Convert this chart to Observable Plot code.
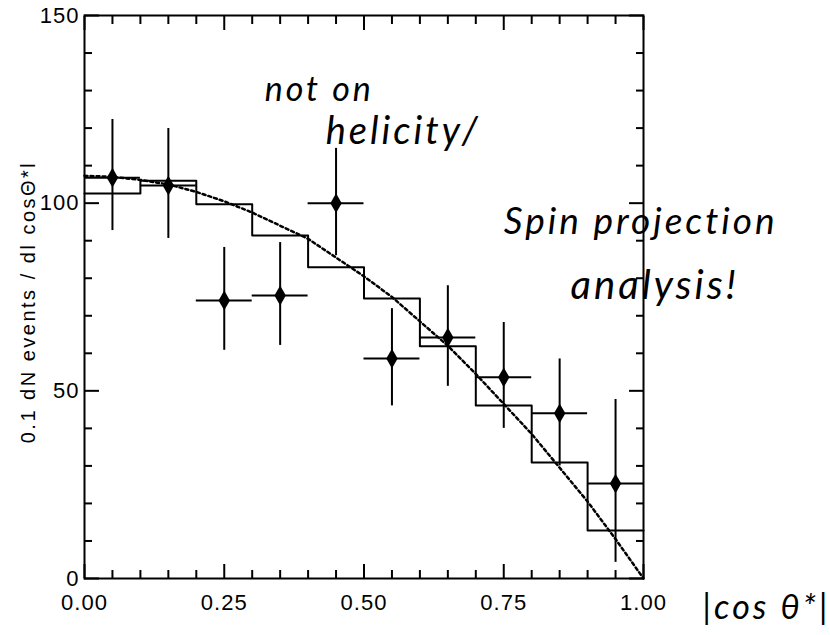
<!DOCTYPE html>
<html>
<head>
<meta charset="utf-8">
<script src="https://cdn.jsdelivr.net/npm/d3@7"></script>
<script src="https://cdn.jsdelivr.net/npm/@observablehq/plot@0.6"></script>
<style>
  html, body { margin: 0; padding: 0; background: #fff; }
  #chart { width: 830px; height: 635px; }
  #chart svg text { letter-spacing: 1px; }
</style>
</head>
<body>
<div id="chart"></div>
<script>
// Histogram (prediction) per bin of |cos θ*|
const binStart = [0.0, 0.1, 0.2, 0.3, 0.4, 0.5, 0.6, 0.7, 0.8, 0.9];
const binEnd   = [0.1, 0.2, 0.3, 0.4, 0.5, 0.6, 0.7, 0.8, 0.9, 1.0];
const histValues = [102.6, 106.0, 99.7, 91.4, 82.9, 74.6, 61.9, 46.1, 30.9, 12.8];

// Data points with error bars
const pointX = [0.05, 0.15, 0.25, 0.35, 0.45, 0.55, 0.65, 0.75, 0.85, 0.95];
const pointY = [106.8, 104.7, 74.1, 75.4, 100.0, 58.6, 64.2, 53.6, 44.0, 25.3];
const errLow = [92.7, 90.6, 60.8, 62.1, 86.0, 46.0, 51.2, 40.0, 30.0, 4.3];
const errHigh = [122.3, 119.9, 88.2, 89.5, 114.6, 71.9, 78.0, 68.2, 58.5, 47.7];

// Dashed curve
const curveX = [0, 0.05, 0.1, 0.15, 0.2, 0.25, 0.3, 0.35, 0.4, 0.45, 0.5, 0.55, 0.6, 0.65, 0.7, 0.75, 0.8, 0.85, 0.9, 0.95, 1.0];
const curveY = [107.3, 107.0, 106.2, 105.0, 103.0, 100.5, 97.5, 94.0, 90.5, 85.5, 80.5, 75.0, 68.5, 62.0, 54.5, 46.5, 38.5, 29.5, 20.5, 10.5, 0];

// Axis ticks
const xMajor = [0, 0.25, 0.5, 0.75, 1.0];
const xMinor = [0.05, 0.1, 0.15, 0.2, 0.3, 0.35, 0.4, 0.45, 0.55, 0.6, 0.65, 0.7, 0.8, 0.85, 0.9, 0.95];
const yMajor = [0, 50, 100, 150];
const yMinor = [10, 20, 30, 40, 60, 70, 80, 90, 110, 120, 130, 140];
const yLabel = "0.1 dN events / dl cosΘ*l";

// Handwritten notes on the scan
const noteText = ["not on", "helicity/", "Spin projection", "analysis!", "|cos θ*|"];
const noteX = [0.42, 0.57, 0.995, 1.02, 1.22];
const noteY = [130, 119, 95, 78, -8];
const noteSize = [34, 38, 37, 40, 34];

const hist = binStart.map((s, i) => ({x: s, y: histValues[i]}));
hist.push({x: binEnd[binEnd.length - 1], y: histValues[histValues.length - 1]});
const points = pointX.map((x, i) => ({x, y: pointY[i], lo: errLow[i], hi: errHigh[i], x1: binStart[i], x2: binEnd[i]}));
const curve = curveX.map((x, i) => ({x, y: curveY[i]}));
const notes = noteText.map((t, i) => ({t, x: noteX[i], y: noteY[i], s: noteSize[i]}));

const tickW = 2;
const chart = Plot.plot({
  width: 830,
  height: 635,
  marginLeft: 84,
  marginRight: 187,
  marginTop: 15,
  marginBottom: 57,
  style: {fontFamily: "'Liberation Sans', Arial, Helvetica, sans-serif", fontSize: "22px", color: "#000", background: "#fff"},
  x: {domain: [0, 1]},
  y: {domain: [0, 150]},
  marks: [
    // inward ticks, bottom/top
    Plot.axisX({anchor: "bottom", ticks: xMajor, tickSize: -14, tickFormat: () => "", strokeWidth: tickW, label: null}),
    Plot.axisX({anchor: "bottom", ticks: xMinor, tickSize: -8, tickFormat: () => "", strokeWidth: tickW, label: null}),
    Plot.axisX({anchor: "top", ticks: xMajor, tickSize: -14, tickFormat: () => "", strokeWidth: tickW, label: null}),
    Plot.axisX({anchor: "top", ticks: xMinor, tickSize: -8, tickFormat: () => "", strokeWidth: tickW, label: null}),
    Plot.axisY({anchor: "left", ticks: yMajor, tickSize: -15, tickFormat: () => "", strokeWidth: tickW, label: null}),
    Plot.axisY({anchor: "left", ticks: yMinor, tickSize: -8, tickFormat: () => "", strokeWidth: tickW, label: null}),
    Plot.axisY({anchor: "right", ticks: yMajor, tickSize: -15, tickFormat: () => "", strokeWidth: tickW, label: null}),
    Plot.axisY({anchor: "right", ticks: yMinor, tickSize: -8, tickFormat: () => "", strokeWidth: tickW, label: null}),
    // tick labels
    Plot.axisX({anchor: "bottom", ticks: xMajor, tickSize: 0, tickPadding: 16, tickFormat: d3.format(".2f"), label: null, fill: "#000", fontSize: 22}),
    Plot.axisY({anchor: "left", ticks: yMajor, tickSize: 0, tickPadding: 5, tickFormat: d3.format("d"), label: null, fill: "#000", fontSize: 22}),
    // y title
    Plot.text([yLabel], {frameAnchor: "left", text: d => d, rotate: -90, dx: -56, dy: 5, fontSize: 20, fill: "#000", textAnchor: "middle"}),
    // histogram
    Plot.line(hist, {x: "x", y: "y", curve: "step-after", stroke: "#000", strokeWidth: 2}),
    // dashed curve
    Plot.line(curve, {x: "x", y: "y", stroke: "#000", strokeWidth: 2.5, strokeDasharray: "3,3"}),
    // error bars
    Plot.ruleX(points, {x: "x", y1: "lo", y2: "hi", stroke: "#000", strokeWidth: 2}),
    Plot.ruleY(points, {y: "y", x1: "x1", x2: "x2", stroke: "#000", strokeWidth: 2}),
    Plot.dot(points, {x: "x", y: "y", symbol: "diamond", r: 6, fill: "#000", stroke: "none"}),
    // frame
    Plot.frame({stroke: "#000", strokeWidth: 2}),
    // handwritten notes
    Plot.text(notes, {x: "x", y: "y", text: "t", fontSize: d => d.s, fontStyle: "italic", fontWeight: 400, fontFamily: "Lato, 'DejaVu Sans', sans-serif", fill: "#000"})
  ]
});
const sel = d3.select(chart).selectAll("text");
sel.filter(function() { return this.textContent === yLabel; }).style("letter-spacing", "2.5px");
sel.filter(function() { return noteText.includes(this.textContent); }).style("letter-spacing", "3px");
document.getElementById("chart").appendChild(chart);
</script>
</body>
</html>
